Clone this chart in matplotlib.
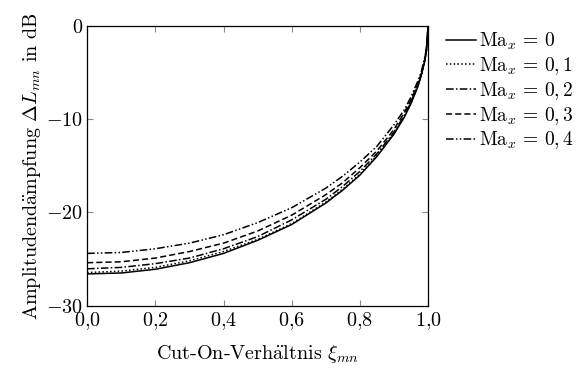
import matplotlib
matplotlib.use("Agg")
import matplotlib.pyplot as plt
from matplotlib.ticker import FixedLocator, FuncFormatter

# cut-on ratio (x) and attenuation in dB
xi = [0.0, 0.1, 0.2, 0.3, 0.4, 0.5, 0.6, 0.7, 0.75, 0.8, 0.85, 0.9,
      0.93, 0.95, 0.97, 0.98, 0.99, 0.995, 1.0]
dl_ma00 = [-26.6, -26.5, -26.1, -25.4, -24.4, -23.0, -21.3, -19.0, -17.6, -16.0,
           -14.0, -11.6, -9.8, -8.3, -6.5, -5.3, -3.8, -2.7, 0.0]
dl_ma01 = [-26.45, -26.3, -25.9, -25.2, -24.2, -22.9, -21.2, -18.9, -17.5, -15.9,
           -13.9, -11.5, -9.7, -8.3, -6.4, -5.3, -3.7, -2.6, 0.0]
dl_ma02 = [-26.05, -25.9, -25.5, -24.9, -23.9, -22.6, -20.8, -18.6, -17.2, -15.6,
           -13.7, -11.4, -9.6, -8.1, -6.3, -5.2, -3.7, -2.6, 0.0]
dl_ma03 = [-25.4, -25.3, -24.9, -24.2, -23.3, -22.0, -20.3, -18.1, -16.8, -15.2,
           -13.4, -11.1, -9.3, -7.9, -6.2, -5.1, -3.6, -2.5, 0.0]
dl_ma04 = [-24.4, -24.3, -23.9, -23.3, -22.4, -21.1, -19.5, -17.4, -16.1, -14.6,
           -12.9, -10.6, -9.0, -7.6, -5.9, -4.9, -3.4, -2.4, 0.0]
labels = [r"$\mathrm{Ma}_x\,=\,0$", r"$\mathrm{Ma}_x\,=\,0,1$", r"$\mathrm{Ma}_x\,=\,0,2$",
          r"$\mathrm{Ma}_x\,=\,0,3$", r"$\mathrm{Ma}_x\,=\,0,4$"]
xticks = [0.0, 0.2, 0.4, 0.6, 0.8, 1.0]
yticks = [-30, -20, -10, 0]

plt.rcParams["mathtext.fontset"] = "cm"
plt.rcParams["font.family"] = ["cmr10", "DejaVu Serif"]
plt.rcParams["axes.unicode_minus"] = False
fs = 14.5

fig = plt.figure(figsize=(5.77, 3.70), dpi=100)
ax = fig.add_axes([0.151, 0.174, 0.591, 0.756])

styles = ["-", (0, (1, 1.5)), (0, (5, 1.5, 1, 1.5)), (0, (4, 2)),
          (0, (5, 1.5, 1, 1.5, 1, 1.5))]
series = [dl_ma00, dl_ma01, dl_ma02, dl_ma03, dl_ma04]
for ys, ls, lab in zip(series, styles, labels):
    ax.plot(xi, ys, color="black", linestyle=ls, lw=1.1, label=lab)

ax.set_xlim(0, 1)
ax.set_ylim(-30, 0)
ax.xaxis.set_major_locator(FixedLocator(xticks))
ax.yaxis.set_major_locator(FixedLocator(yticks))
ax.xaxis.set_major_formatter(FuncFormatter(lambda v, p: ("$%.1f$" % v).replace(".", "{,}")))
ax.yaxis.set_major_formatter(FuncFormatter(lambda v, p: "$%d$" % v))
ax.tick_params(direction="in", top=True, right=True, length=4, width=0.8,
               color="#888888", labelsize=fs, pad=3)
for s in ax.spines.values():
    s.set_linewidth(0.9)

ax.set_xlabel(r"Cut-On-Verh$\mathrm{\ddot{a}}$ltnis $\xi_{mn}$", fontsize=fs, labelpad=8)
ax.set_ylabel(r"Amplitudend$\mathrm{\ddot{a}}$mpfung $\Delta L_{mn}$ in dB", fontsize=fs, labelpad=2)

ax.legend(loc="upper left", bbox_to_anchor=(1.0, 1.045), frameon=False, fontsize=14,
          handlelength=1.55, handletextpad=0.15, labelspacing=0.15, borderaxespad=0.5)

fig.savefig("out.png", dpi=100)
